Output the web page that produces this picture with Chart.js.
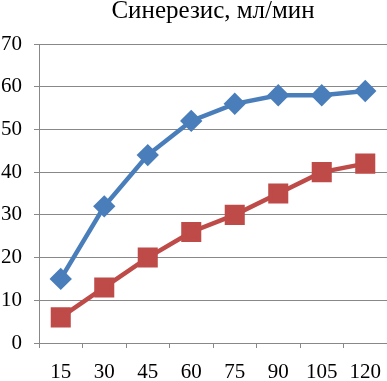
<!doctype html>
<html lang="ru">
<head>
<meta charset="utf-8">
<title>Синерезис</title>
<script src="https://cdn.jsdelivr.net/npm/chart.js@4.4.0/dist/chart.umd.min.js"></script>
<style>
  html, body { margin: 0; padding: 0; background: #fff; }
  #wrap { width: 387px; height: 381px; }
</style>
</head>
<body>
<div id="wrap"><canvas id="myChart" width="387" height="381"></canvas></div>
<script>
  // minutes
  var xlabel = ["15", "30", "45", "60", "75", "90", "105", "120"];
  // blue series (diamonds)
  var data1 = [15, 32, 44, 52, 56, 58, 58, 59];
  // red series (squares)
  var data2 = [6, 13, 20, 26, 30, 35, 40, 42];
  var yTicks = [0, 10, 20, 30, 40, 50, 60, 70];

  var serif = "'Liberation Serif', 'Times New Roman', serif";

  new Chart(document.getElementById("myChart"), {
    type: "line",
    data: {
      labels: xlabel,
      datasets: [{
        label: "1",
        data: data1,
        borderColor: "#4a7ebb",
        backgroundColor: "#4a7ebb",
        borderWidth: 4.5,
        pointStyle: "rectRot",
        pointRadius: 8,
        pointHoverRadius: 8,
        tension: 0
      }, {
        label: "2",
        data: data2,
        borderColor: "#be4b48",
        backgroundColor: "#be4b48",
        borderWidth: 4.5,
        pointStyle: "rect",
        pointRadius: 11,
        pointHoverRadius: 11,
        tension: 0
      }]
    },
    options: {
      responsive: false,
      animation: false,
      layout: { autoPadding: false, padding: { left: 0, right: 0, top: 0, bottom: 0 } },
      plugins: {
        legend: { display: false },
        tooltip: { enabled: false },
        title: {
          display: true,
          fullSize: false,
          text: "Синерезис, мл/мин",
          color: "#000",
          font: { family: serif, size: 25, weight: "normal", lineHeight: "22px" },
          padding: { top: 0, bottom: 22 }
        }
      },
      scales: {
        x: {
          offset: true,
          grid: { offset: true, drawOnChartArea: false, drawTicks: true, tickLength: 5, color: "#888" },
          border: { color: "#888", width: 1 },
          ticks: { color: "#000", font: { family: serif, size: 21, lineHeight: "45px" }, padding: 2, maxRotation: 0, autoSkip: false },
          afterFit: function (scale) {
            scale.height = 38;
            scale.paddingLeft = 0;
            scale.paddingRight = 0;
          }
        },
        y: {
          min: 0,
          max: 70,
          afterBuildTicks: function (axis) { axis.ticks = yTicks.map(function (v) { return { value: v }; }); },
          grid: { color: "#888", tickLength: 5 },
          border: { color: "#888", width: 1 },
          ticks: { color: "#000", font: { family: serif, size: 21 }, padding: 12 },
          afterFit: function (scale) { scale.width = 39; }
        }
      }
    }
  });
</script>
</body>
</html>
